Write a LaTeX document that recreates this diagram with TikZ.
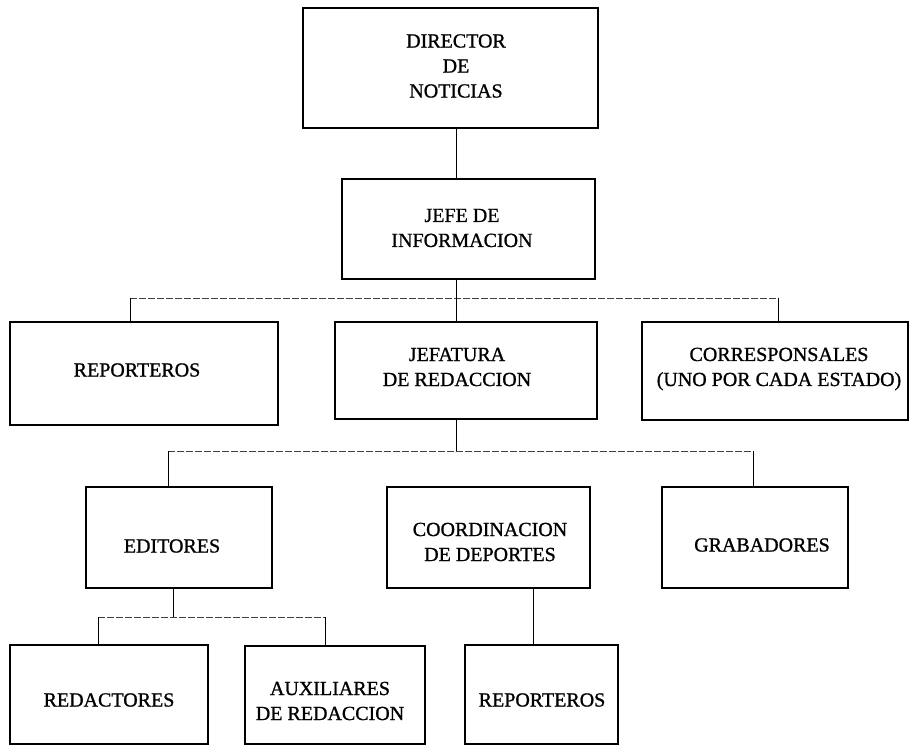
\documentclass[tikz,border=0pt]{standalone}
\usepackage{fontspec}
\setmainfont{Liberation Serif}
\newfontfamily\boxfont[FakeBold=1]{Liberation Serif}
\begin{document}
\begin{tikzpicture}[x=1pt,y=-1pt,
 box/.style={draw, line width=2.2pt, inner sep=0pt},
 txt/.style={inner sep=0pt, align=center, font=\boxfont\fontsize{20}{25}\selectfont},
 conn/.style={line width=1pt},
 dline/.style={line width=0.9pt, black!75, dash pattern=on 7pt off 2pt}]
\useasboundingbox (0,0) rectangle (911,746);
% boxes
\node[box, minimum width=295pt, minimum height=120pt] (dir) at (450.5,68) {};
\node[box, minimum width=253pt, minimum height=100pt] (jefe) at (468.5,229) {};
\node[box, minimum width=268pt, minimum height=103pt] (rep) at (144,373.5) {};
\node[box, minimum width=262pt, minimum height=97pt] (jefa) at (466,370.5) {};
\node[box, minimum width=266pt, minimum height=98pt] (corr) at (775,371) {};
\node[box, minimum width=186pt, minimum height=101pt] (edit) at (179,537.5) {};
\node[box, minimum width=203pt, minimum height=101pt] (coord) at (488.5,537.5) {};
\node[box, minimum width=186pt, minimum height=101pt] (grab) at (755,537.5) {};
\node[box, minimum width=198pt, minimum height=99pt] (red) at (109,694.5) {};
\node[box, minimum width=180pt, minimum height=98pt] (aux) at (335,695) {};
\node[box, minimum width=153pt, minimum height=99pt] (rep2) at (541.5,694.5) {};
% texts
\node[txt] (dirT) at (456,66) {DIRECTOR\\DE\\NOTICIAS};
\node[txt] (jefeT) at (462,228) {JEFE DE\\INFORMACION};
\node[txt] (repT) at (137,370) {REPORTEROS};
\node[txt] (jefaT) at (457,367) {JEFATURA\\DE REDACCION};
\node[txt] (corrT) at (779,369) {CORRESPONSALES\\(UNO POR CADA ESTADO)};
\node[txt] (editT) at (172,546) {EDITORES};
\node[txt] (coordT) at (490,542) {COORDINACION\\DE DEPORTES};
\node[txt] (grabT) at (762,545) {GRABADORES};
\node[txt] (redT) at (109,700) {REDACTORES};
\node[txt] (auxT) at (330,701) {AUXILIARES\\DE REDACCION};
\node[txt] (rep2T) at (542,700) {REPORTEROS};
% reference coordinates
\coordinate (xa) at (456,0);
\coordinate (xr) at (130,0);
\coordinate (xc) at (778,0);
\coordinate (xe) at (168,0);
\coordinate (xg) at (753,0);
\coordinate (xf) at (173,0);
\coordinate (xd) at (98,0);
\coordinate (xu) at (325,0);
\coordinate (xk) at (533,0);
\coordinate (ha) at (0,298);
\coordinate (hb) at (0,451);
\coordinate (hc) at (0,617);
% connectors
\draw[conn] (dir.south -| xa) -- (jefe.north -| xa);
\draw[conn] (jefe.south -| xa) -- (ha -| xa);
\draw[dline] (ha -| xr) -- (ha -| xc);
\draw[conn] (ha -| xr) -- (rep.north -| xr);
\draw[conn] (ha -| xa) -- (jefa.north -| xa);
\draw[conn] (ha -| xc) -- (corr.north -| xc);
\draw[conn] (jefa.south -| xa) -- (hb -| xa);
\draw[dline] (hb -| xe) -- (hb -| xg);
\draw[conn] (hb -| xe) -- (edit.north -| xe);
\draw[conn] (hb -| xg) -- (grab.north -| xg);
\draw[conn] (edit.south -| xf) -- (hc -| xf);
\draw[dline] (hc -| xd) -- (hc -| xu);
\draw[conn] (hc -| xd) -- (red.north -| xd);
\draw[conn] (hc -| xu) -- (aux.north -| xu);
\draw[conn] (coord.south -| xk) -- (rep2.north -| xk);
\end{tikzpicture}
\end{document}
